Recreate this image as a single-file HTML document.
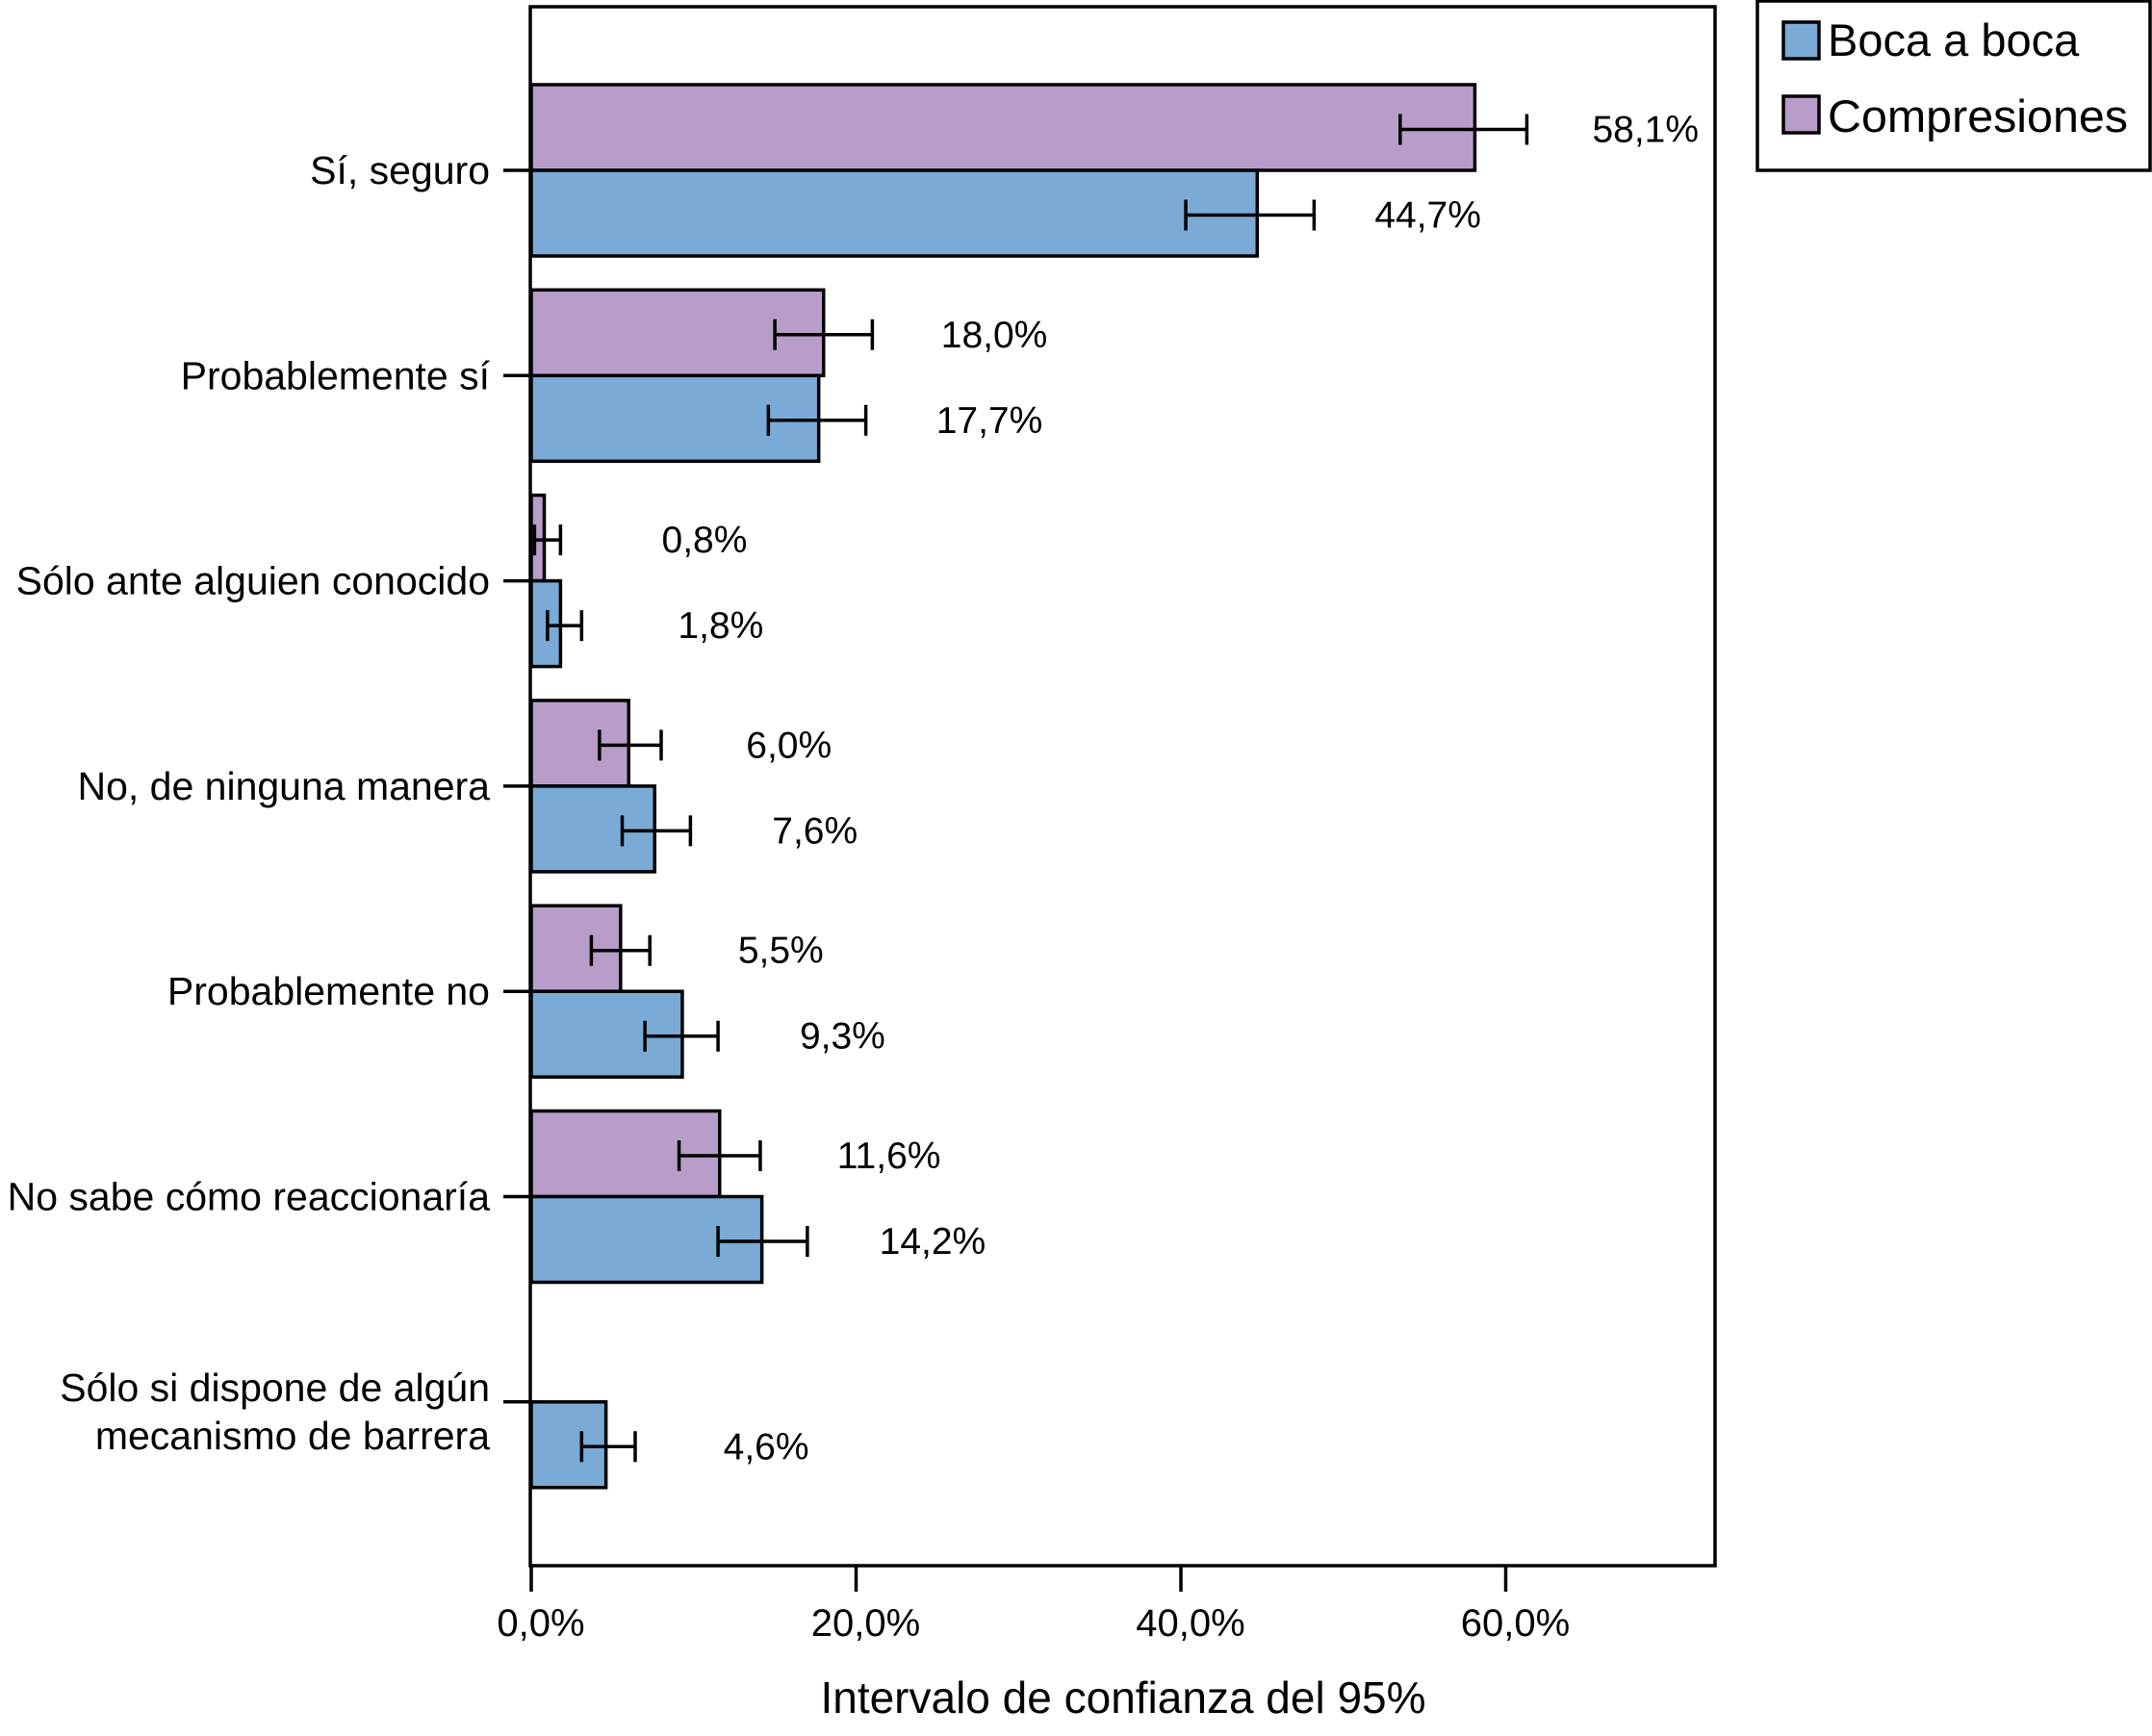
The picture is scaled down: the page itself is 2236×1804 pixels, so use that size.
<!DOCTYPE html>
<html><head><meta charset="utf-8"><style>
html,body{margin:0;padding:0;background:#fff;}
svg{display:block;font-family:"Liberation Sans",sans-serif;}
</style></head><body>
<svg id="chart" width="2236" height="1804" viewBox="0 0 2236 1804">
<rect x="551" y="7" width="1231" height="1620" fill="none" stroke="#000" stroke-width="3.5"/>
<g id="bars"></g>
<g id="yaxis"></g>
<g id="xaxis"></g>
<text x="1167" y="1780" font-size="46" text-anchor="middle">Intervalo de confianza del 95%</text>
<g>
<rect x="1826" y="1" width="408" height="176" fill="#fff" stroke="#000" stroke-width="3.5"/>
<g>
<rect x="1853" y="23" width="37" height="38" fill="#7aaad6" stroke="#000" stroke-width="3.5"/>
<text x="1899" y="58" font-size="47">Boca a boca</text></g>
<g>
<rect x="1853" y="100" width="37" height="38" fill="#b89cc9" stroke="#000" stroke-width="3.5"/>
<text x="1899" y="137" font-size="47" textLength="312" lengthAdjust="spacingAndGlyphs">Compresiones</text></g>
</g>
</svg>
<script>
const categories = [["Sí, seguro"],["Probablemente sí"],["Sólo ante alguien conocido"],["No, de ninguna manera"],["Probablemente no"],["No sabe cómo reaccionaría"],["Sólo si dispone de algún","mecanismo de barrera"]];
const compValues = [58.1, 18.0, 0.8, 6.0, 5.5, 11.6, null];
const compLow = [53.5, 15.0, 0.2, 4.2, 3.7, 9.1, null];
const compHigh = [61.3, 21.0, 1.8, 8.0, 7.3, 14.1, null];
const bocaValues = [44.7, 17.7, 1.8, 7.6, 9.3, 14.2, 4.6];
const bocaLow = [40.3, 14.6, 1.0, 5.6, 7.0, 11.5, 3.1];
const bocaHigh = [48.2, 20.6, 3.1, 9.8, 11.5, 17.0, 6.4];
const xTicks = [0, 20, 40, 60];
const xTickLabels = ["0,0%", "20,0%", "40,0%", "60,0%"];

const NS = "http://www.w3.org/2000/svg";
const x0 = 552, pxPer = 16.875;
function xS(v){ return x0 + v * pxPer; }
function yS(i){ return 177 + i * 213.3; }
const barH = 89;
function mk(tag, attrs, parent){ const e = document.createElementNS(NS, tag); for (const k in attrs) e.setAttribute(k, attrs[k]); parent.appendChild(e); return e; }
function fmt(v){ return v.toFixed(1).replace(".", ",") + "%"; }
const bars = document.getElementById("bars");
const yax = document.getElementById("yaxis");
const xax = document.getElementById("xaxis");

function drawBar(i, v, lo, hi, top, color, series){
  const r = mk("rect", {x: xS(0), y: top, width: xS(v) - xS(0), height: barH, fill: color, stroke: "#000", "stroke-width": 3.5}, bars);
  
  
  const cy = top + barH / 2 + 2;
  const eb = mk("path", {d: `M${xS(lo)},${cy}H${xS(hi)}M${xS(lo)},${cy-16}V${cy+16}M${xS(hi)},${cy-16}V${cy+16}`, stroke: "#000", "stroke-width": 3.5, fill: "none"}, bars);
  
  
  const t = mk("text", {x: xS(v) + 122, y: cy + 13, "font-size": 39}, bars);
  t.textContent = fmt(v);
  
  
}

categories.forEach((lines, i) => {
  const c = yS(i);
  const tk = mk("line", {x1: 523, x2: 552, y1: c, y2: c, stroke: "#000", "stroke-width": 3.5}, yax);
  
  
  const t = mk("text", {x: 509, "font-size": 41, "text-anchor": "end"}, yax);
  
  
  if (lines.length === 1) { t.setAttribute("y", c + 14); t.textContent = lines[0]; }
  else { lines.forEach((ln, j) => { const s = mk("tspan", {x: 509, y: c - 1 + j * 50}, t); s.textContent = ln; }); }
  if (compValues[i] !== null) drawBar(i, compValues[i], compLow[i], compHigh[i], c - barH, "#b89cc9", "compresiones");
  if (bocaValues[i] !== null) drawBar(i, bocaValues[i], bocaLow[i], bocaHigh[i], c, "#7aaad6", "boca");
});

xTicks.forEach((v, i) => {
  const tk = mk("line", {x1: xS(v), x2: xS(v), y1: 1627, y2: 1654, stroke: "#000", "stroke-width": 3.5}, xax);
  
  
  const t = mk("text", {x: xS(v) + 10, y: 1700, "font-size": 40, "text-anchor": "middle"}, xax);
  t.textContent = xTickLabels[i];
  
  
});
</script>
</body></html>
